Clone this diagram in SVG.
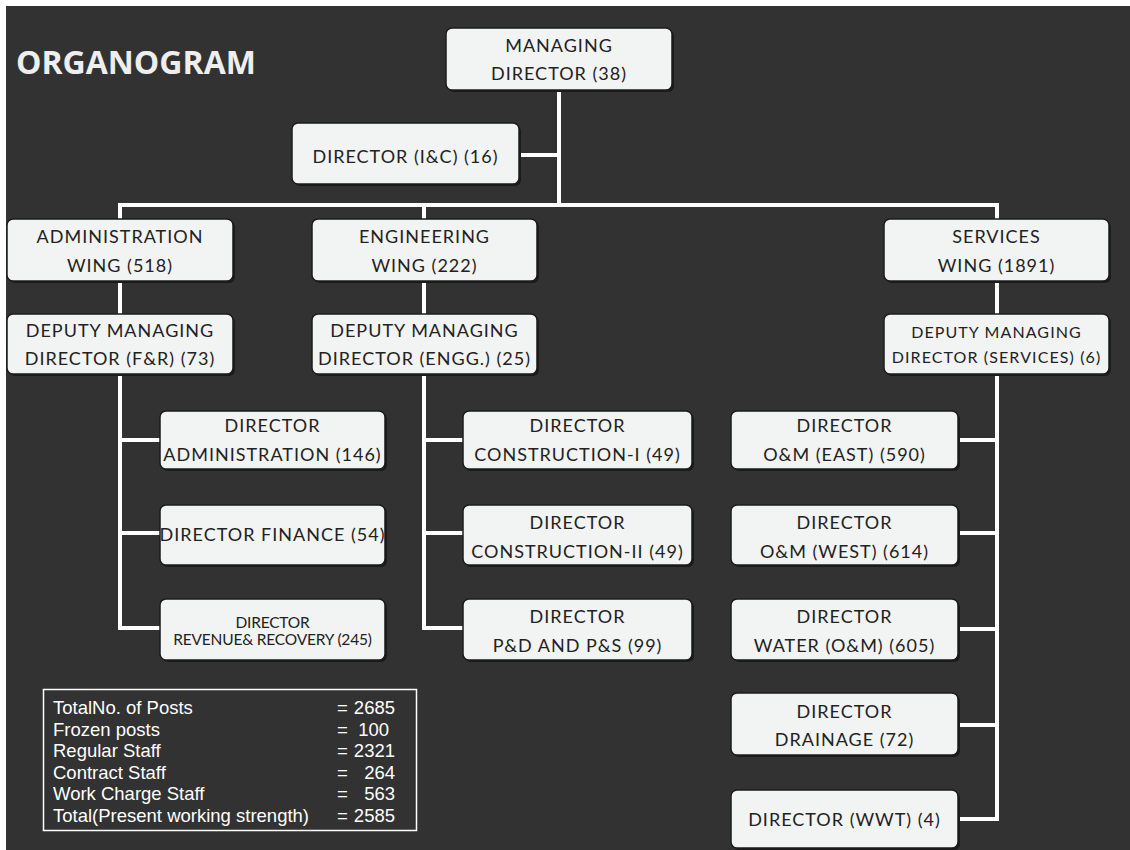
<svg xmlns="http://www.w3.org/2000/svg" width="1130" height="850" viewBox="0 0 1130 850">
  <style>
    .bg { fill: #323232; }
    .box { fill: #f2f3f3; stroke: #1c1c1c; stroke-width: 1.5; }
    .shadow { fill: #1b1b1b; }
    .t { font-family: Lato, "Open Sans", "Liberation Sans", sans-serif; font-size: 18px; fill: #222222; text-anchor: middle; letter-spacing: 1px; }
    .s { font-size: 16px; letter-spacing: 1.1px; }
    .xs { font-size: 15.5px; letter-spacing: -0.2px; }
    .title { font-family: "Open Sans", "Liberation Sans", sans-serif; font-weight: bold; font-size: 32px; fill: #eeeeee; }
    .conn { fill: none; stroke: #ffffff; stroke-width: 4; stroke-linejoin: miter; stroke-linecap: square; }
    .legend { fill: none; stroke: #ffffff; stroke-width: 1.5; }
    .lt { font-family: "Liberation Sans", Arial, sans-serif; font-size: 18.5px; fill: #ffffff; }
  </style>

  <rect x="0" y="0" width="1130" height="850" fill="#ffffff"/>
  <rect class="bg" x="6" y="6" width="1124" height="844"/>

  <text class="title" x="16" y="74">ORGANOGRAM</text>

  <!-- connectors -->
  <g id="connectors">
    <path class="conn" d="M559,92 V205"/>
    <path class="conn" d="M521,155 H559"/>
    <path class="conn" d="M120,217 V205 H997 V217"/>
    <path class="conn" d="M424,205 V217"/>
    <!-- administration wing -->
    <path class="conn" d="M120,283 V312"/>
    <path class="conn" d="M120,376 V628 H158"/>
    <path class="conn" d="M120,440 H158 M120,533 H158"/>
    <!-- engineering wing -->
    <path class="conn" d="M424,283 V312"/>
    <path class="conn" d="M424,376 V628 H461"/>
    <path class="conn" d="M424,440 H461 M424,533 H461"/>
    <!-- services wing -->
    <path class="conn" d="M997,283 V312"/>
    <path class="conn" d="M997,376 V819 H960"/>
    <path class="conn" d="M960,440 H997 M960,533 H997 M960,629 H997 M960,725 H997"/>
  </g>

  <!-- top level -->
  <g id="managing-director">
    <rect class="shadow" x="448" y="30" width="226" height="62" rx="6"/>
    <rect class="box" x="446" y="28" width="226" height="62" rx="6"/>
    <text class="t" x="559" y="52">MANAGING</text>
    <text class="t" x="559" y="80">DIRECTOR (38)</text>
  </g>
  <g id="director-ic">
    <rect class="shadow" x="294" y="125" width="227" height="61" rx="6"/>
    <rect class="box" x="292" y="123" width="227" height="61" rx="6"/>
    <text class="t" x="405.5" y="163">DIRECTOR (I&amp;C) (16)</text>
  </g>

  <!-- wings -->
  <g id="admin-wing">
    <rect class="shadow" x="9" y="221" width="226" height="62" rx="6"/>
    <rect class="box" x="7" y="219" width="226" height="62" rx="6"/>
    <text class="t" x="120" y="243">ADMINISTRATION</text>
    <text class="t" x="120" y="272">WING (518)</text>
  </g>
  <g id="engineering-wing">
    <rect class="shadow" x="314" y="221" width="225" height="62" rx="6"/>
    <rect class="box" x="312" y="219" width="225" height="62" rx="6"/>
    <text class="t" x="424.5" y="243">ENGINEERING</text>
    <text class="t" x="424.5" y="272">WING (222)</text>
  </g>
  <g id="services-wing">
    <rect class="shadow" x="886" y="221" width="225" height="62" rx="6"/>
    <rect class="box" x="884" y="219" width="225" height="62" rx="6"/>
    <text class="t" x="996.5" y="243">SERVICES</text>
    <text class="t" x="996.5" y="272">WING (1891)</text>
  </g>

  <!-- deputy managing directors -->
  <g id="dmd-fr">
    <rect class="shadow" x="9" y="316" width="226" height="60" rx="6"/>
    <rect class="box" x="7" y="314" width="226" height="60" rx="6"/>
    <text class="t" x="120" y="337">DEPUTY MANAGING</text>
    <text class="t" x="120" y="365">DIRECTOR (F&amp;R) (73)</text>
  </g>
  <g id="dmd-engg">
    <rect class="shadow" x="314" y="316" width="225" height="60" rx="6"/>
    <rect class="box" x="312" y="314" width="225" height="60" rx="6"/>
    <text class="t" x="424.5" y="337">DEPUTY MANAGING</text>
    <text class="t" x="424.5" y="365">DIRECTOR (ENGG.) (25)</text>
  </g>
  <g id="dmd-services">
    <rect class="shadow" x="886" y="316" width="225" height="60" rx="6"/>
    <rect class="box" x="884" y="314" width="225" height="60" rx="6"/>
    <text class="t s" x="996.5" y="338">DEPUTY MANAGING</text>
    <text class="t s" x="996.5" y="363">DIRECTOR (SERVICES) (6)</text>
  </g>

  <!-- administration directors -->
  <g id="dir-administration">
    <rect class="shadow" x="162" y="413" width="225" height="58" rx="6"/>
    <rect class="box" x="160" y="411" width="225" height="58" rx="6"/>
    <text class="t" x="272.5" y="432">DIRECTOR</text>
    <text class="t" x="272.5" y="461">ADMINISTRATION (146)</text>
  </g>
  <g id="dir-finance">
    <rect class="shadow" x="162" y="507" width="225" height="60" rx="6"/>
    <rect class="box" x="160" y="505" width="225" height="60" rx="6"/>
    <text class="t" x="272.5" y="541">DIRECTOR FINANCE (54)</text>
  </g>
  <g id="dir-revenue">
    <rect class="shadow" x="162" y="601" width="225" height="61" rx="6"/>
    <rect class="box" x="160" y="599" width="225" height="61" rx="6"/>
    <text class="t xs" x="272.5" y="628">DIRECTOR</text>
    <text class="t xs" x="272.5" y="645">REVENUE&amp; RECOVERY (245)</text>
  </g>

  <!-- engineering directors -->
  <g id="dir-construction-1">
    <rect class="shadow" x="465" y="413" width="229" height="58" rx="6"/>
    <rect class="box" x="463" y="411" width="229" height="58" rx="6"/>
    <text class="t" x="577.5" y="432">DIRECTOR</text>
    <text class="t" x="577.5" y="461">CONSTRUCTION-I (49)</text>
  </g>
  <g id="dir-construction-2">
    <rect class="shadow" x="465" y="507" width="229" height="60" rx="6"/>
    <rect class="box" x="463" y="505" width="229" height="60" rx="6"/>
    <text class="t" x="577.5" y="529">DIRECTOR</text>
    <text class="t" x="577.5" y="558">CONSTRUCTION-II (49)</text>
  </g>
  <g id="dir-pd-ps">
    <rect class="shadow" x="465" y="601" width="229" height="61" rx="6"/>
    <rect class="box" x="463" y="599" width="229" height="61" rx="6"/>
    <text class="t" x="577.5" y="623">DIRECTOR</text>
    <text class="t" x="577.5" y="652">P&amp;D AND P&amp;S (99)</text>
  </g>

  <!-- services directors -->
  <g id="dir-om-east">
    <rect class="shadow" x="733" y="413" width="227" height="58" rx="6"/>
    <rect class="box" x="731" y="411" width="227" height="58" rx="6"/>
    <text class="t" x="844.5" y="432">DIRECTOR</text>
    <text class="t" x="844.5" y="461">O&amp;M (EAST) (590)</text>
  </g>
  <g id="dir-om-west">
    <rect class="shadow" x="733" y="507" width="227" height="60" rx="6"/>
    <rect class="box" x="731" y="505" width="227" height="60" rx="6"/>
    <text class="t" x="844.5" y="529">DIRECTOR</text>
    <text class="t" x="844.5" y="558">O&amp;M (WEST) (614)</text>
  </g>
  <g id="dir-water">
    <rect class="shadow" x="733" y="601" width="227" height="61" rx="6"/>
    <rect class="box" x="731" y="599" width="227" height="61" rx="6"/>
    <text class="t" x="844.5" y="623">DIRECTOR</text>
    <text class="t" x="844.5" y="652">WATER (O&amp;M) (605)</text>
  </g>
  <g id="dir-drainage">
    <rect class="shadow" x="733" y="695" width="227" height="62" rx="6"/>
    <rect class="box" x="731" y="693" width="227" height="62" rx="6"/>
    <text class="t" x="844.5" y="718">DIRECTOR</text>
    <text class="t" x="844.5" y="746">DRAINAGE (72)</text>
  </g>
  <g id="dir-wwt">
    <rect class="shadow" x="733" y="792" width="227" height="58" rx="6"/>
    <rect class="box" x="731" y="790" width="227" height="58" rx="6"/>
    <text class="t" x="844.5" y="826">DIRECTOR (WWT) (4)</text>
  </g>

  <!-- staff summary -->
  <g id="summary">
    <rect class="legend" x="43.5" y="689.5" width="373" height="141"/>
    <text class="lt" x="53" y="714">TotalNo. of Posts</text>
    <text class="lt" x="53" y="736">Frozen posts</text>
    <text class="lt" x="53" y="757">Regular Staff</text>
    <text class="lt" x="53" y="779">Contract Staff</text>
    <text class="lt" x="53" y="800">Work Charge Staff</text>
    <text class="lt" x="53" y="822">Total(Present working strength)</text>
    <g class="lt">
      <text x="337" y="714">=</text>
      <text x="337" y="736">=</text>
      <text x="337" y="757">=</text>
      <text x="337" y="779">=</text>
      <text x="337" y="800">=</text>
      <text x="337" y="822">=</text>
    </g>
    <g class="lt" text-anchor="end">
      <text x="395" y="714">2685</text>
      <text x="389" y="736">100</text>
      <text x="395" y="757">2321</text>
      <text x="395" y="779">264</text>
      <text x="395" y="800">563</text>
      <text x="395" y="822">2585</text>
    </g>
  </g>
</svg>
